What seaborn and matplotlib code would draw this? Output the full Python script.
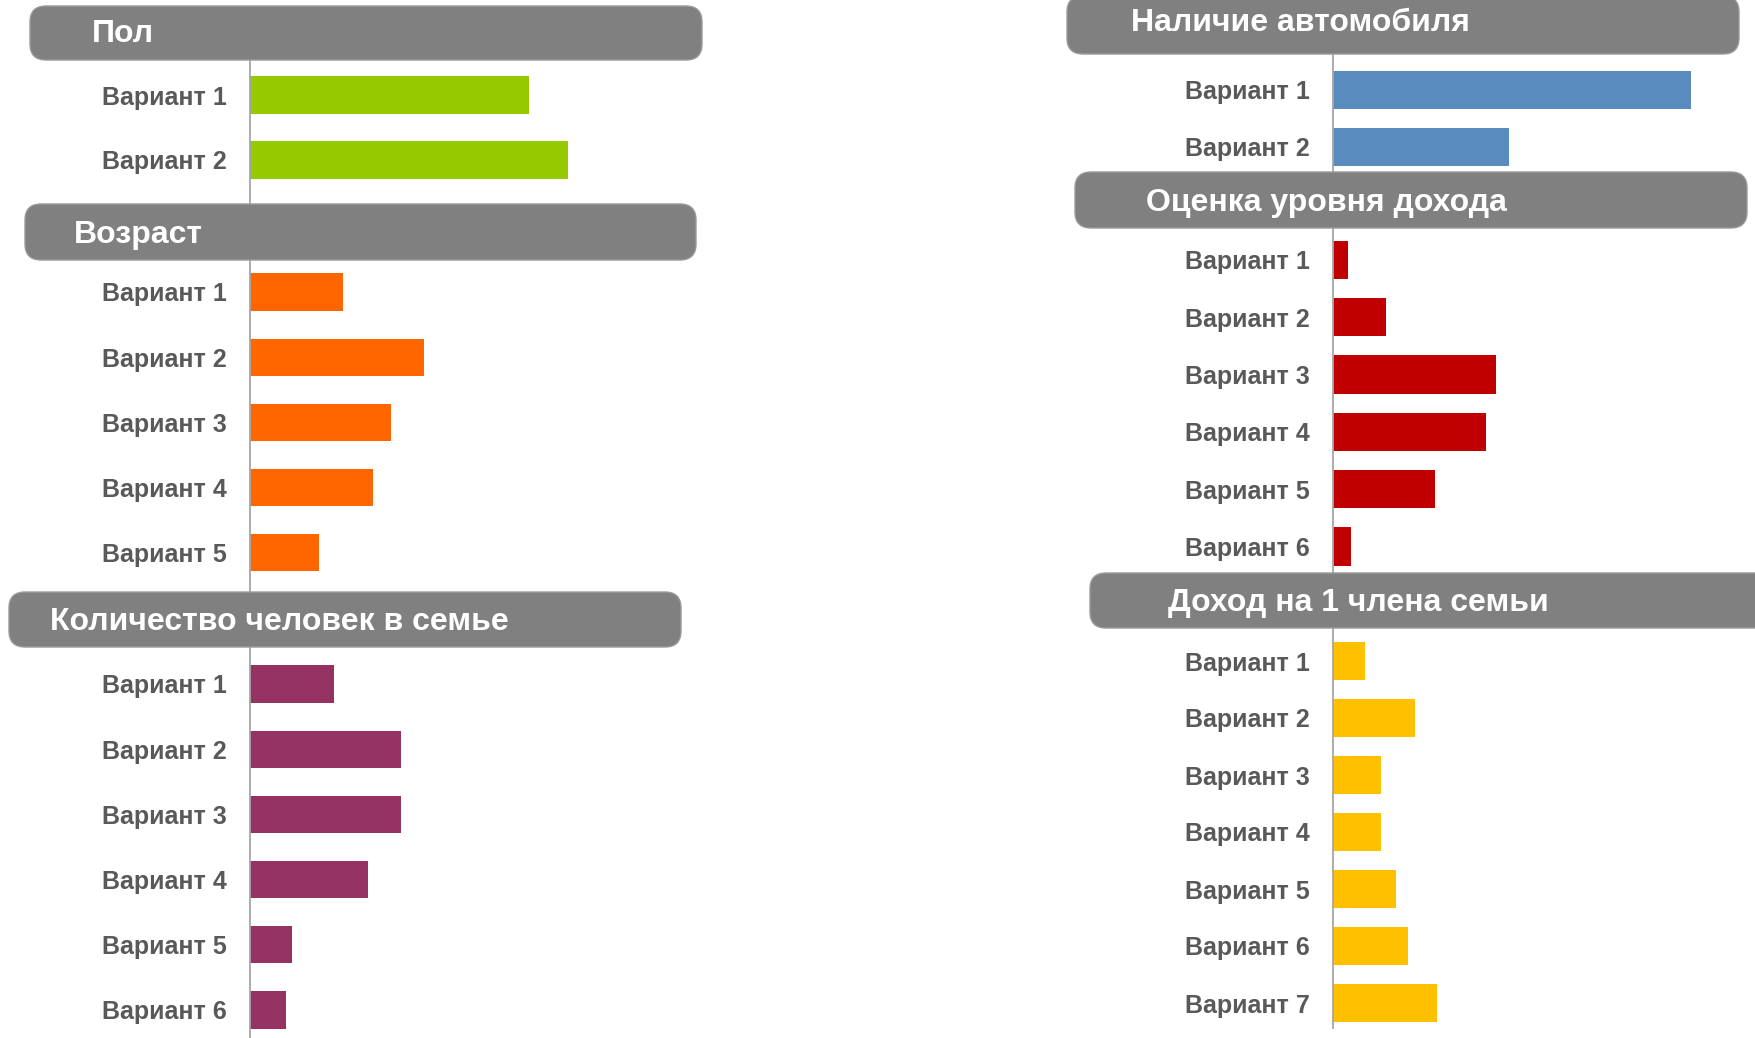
import matplotlib
matplotlib.use("Agg")
import matplotlib.pyplot as plt
import pandas as pd
import seaborn as sns
from matplotlib.patches import FancyBboxPatch

# ---------------- data ----------------
titles = ["Пол", "Возраст", "Количество человек в семье",
          "Наличие автомобиля", "Оценка уровня дохода", "Доход на 1 члена семьи"]

pol_labels = ["Вариант 1", "Вариант 2"]
pol_values = [46.5, 53]

age_labels = ["Вариант 1", "Вариант 2", "Вариант 3", "Вариант 4", "Вариант 5"]
age_values = [15.5, 29, 23.5, 20.5, 11.5]

family_labels = ["Вариант 1", "Вариант 2", "Вариант 3", "Вариант 4", "Вариант 5", "Вариант 6"]
family_values = [14, 25.2, 25.2, 19.7, 7, 6]

car_labels = ["Вариант 1", "Вариант 2"]
car_values = [67, 33]

rating_labels = ["Вариант 1", "Вариант 2", "Вариант 3", "Вариант 4", "Вариант 5", "Вариант 6"]
rating_values = [3, 10.5, 32, 30, 20, 3.5]

member_labels = ["Вариант 1", "Вариант 2", "Вариант 3", "Вариант 4", "Вариант 5", "Вариант 6", "Вариант 7"]
member_values = [7, 18, 10.5, 10.5, 14, 16.5, 23]

colors = ["#97C900", "#FF6600", "#943262", "#5A8BBF", "#C00000", "#FFC000"]

# ---------------- layout (pixels) ----------------
W, H = 1756, 1038
sns.set_theme(style="white")
plt.rcParams["font.family"] = ["Liberation Sans", "DejaVu Sans"]

fig = plt.figure(figsize=(W / 100, H / 100), dpi=100)
fig.patch.set_facecolor("white")

# axis_x, top, bottom, first_center, spacing, bar_frac, px_per_unit, right_edge
layout = [
    (250, 60, 204, 95, 65, 0.57, 6.0, 720),
    (250, 260, 592, 292, 65.2, 0.57, 6.0, 720),
    (250, 647, 1038, 684, 65.2, 0.57, 6.0, 720),
    (1333, 54, 172, 90, 57, 0.67, 5.34, 1756),
    (1333, 228, 573, 260, 57.3, 0.67, 5.09, 1756),
    (1333, 628, 1028, 661, 57, 0.67, 4.53, 1756),
]
# header boxes: x0, y0, x1, y1, text_x, text_dy
headers = [
    (30, 6, 702, 60, 92, 1),
    (25, 204, 696, 260, 74, 3),
    (9, 592, 681, 647, 50, 3),
    (1067, -4, 1739, 54, 1131, -2),
    (1075, 172, 1747, 228, 1146, 3),
    (1090, 573, 1790, 628, 1168, 3),
]

groups = [
    (pol_labels, pol_values),
    (age_labels, age_values),
    (family_labels, family_values),
    (car_labels, car_values),
    (rating_labels, rating_values),
    (member_labels, member_values),
]

for (labels, values), color, (ax_x, top, bot, c0, s, frac, ppu, right) in zip(groups, colors, layout):
    ax = fig.add_axes([ax_x / W, 1 - bot / H, (right - ax_x) / W, (bot - top) / H])
    df = pd.DataFrame({"label": labels, "value": values})
    sns.barplot(data=df, x="value", y="label", color=color, saturation=1,
                width=frac, ax=ax, orient="h", linewidth=0)
    ax.set_xlim(0, (right - ax_x) / ppu)
    ax.set_ylim((bot - c0) / s, (top - c0) / s)
    ax.set_xlabel("")
    ax.set_ylabel("")
    ax.set_xticks([])
    for side in ["top", "right", "bottom"]:
        ax.spines[side].set_visible(False)
    ax.spines["left"].set_color("#A6A6A6")
    ax.spines["left"].set_linewidth(1.3)
    ax.tick_params(axis="y", length=0, pad=17, labelsize=18, labelcolor="#595959")
    for t in ax.get_yticklabels():
        t.set_fontweight("bold")
    ax.patch.set_alpha(0)

ov = fig.add_axes([0, 0, 1, 1])
ov.set_xlim(0, W)
ov.set_ylim(H, 0)
ov.axis("off")
ov.set_zorder(10)
ov.patch.set_alpha(0)

for title, (x0, y0, x1, y1, tx, dy) in zip(titles, headers):
    box = FancyBboxPatch((x0, y0), x1 - x0, y1 - y0,
                         boxstyle="round,pad=0,rounding_size=16",
                         fc="#808080", ec="#9A9A9A", lw=1.0)
    ov.add_patch(box)
    ov.text(tx, (y0 + y1) / 2 + dy, title, color="white", fontsize=23,
            fontweight="bold", ha="left", va="center")

fig.savefig("out.png", dpi=100, facecolor="white")
